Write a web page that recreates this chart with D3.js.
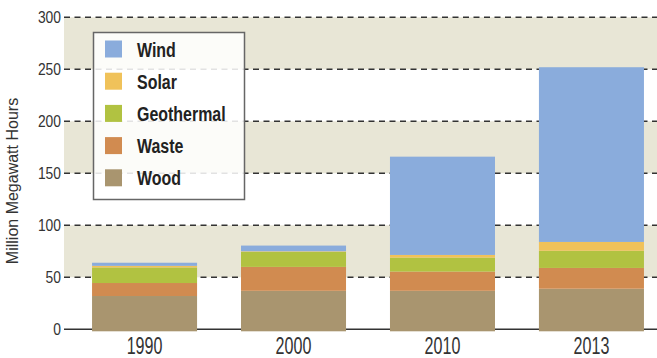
<!DOCTYPE html>
<html>
<head>
<meta charset="utf-8">
<script src="https://cdn.jsdelivr.net/npm/d3@7"></script>
<style>
  body { margin: 0; background: #fff; }
  text { font-family: "Liberation Sans", Arial, sans-serif; }
</style>
</head>
<body>
<div id="chart"></div>
<script>
width = 657;
height = 358;

// data (million MWh)
years = ["1990", "2000", "2010", "2013"];
sources = ["Wood", "Waste", "Geothermal", "Solar", "Wind"];
wood = [32, 37, 37, 39];
waste = [12.5, 23, 18.5, 20];
geothermal = [15, 14.5, 13.5, 16.5];
solar = [1.5, 0.5, 2.5, 8.5];
wind = [3, 5.5, 94.5, 168];
yTicks = [0, 50, 100, 150, 200, 250, 300];
bandRanges = [[50, 100], [150, 200], [250, 300]];

colors = {Wood: "#a9956f", Waste: "#d18b50", Geothermal: "#b1c241", Solar: "#f0c25a", Wind: "#8aacdc"};

var rows = years.map(function(y, i) {
    return {year: y, Wood: wood[i], Waste: waste[i], Geothermal: geothermal[i], Solar: solar[i], Wind: wind[i]};
});

var xScale = d3.scaleBand().domain(years).range([70, 666]).paddingInner(0.295).paddingOuter(0.148);
var yScale = d3.scaleLinear().domain([0, 300]).range([329.3, 17.3]);

var svg = d3.select("#chart").append("svg")
    .attr("width", width)
    .attr("height", height);

// shaded bands
svg.selectAll("rect.band")
    .data(bandRanges)
    .enter()
    .append("rect")
    .attr("class", "band")
    .attr("x", 64)
    .attr("width", width - 64)
    .attr("y", d => yScale(d[1]))
    .attr("height", d => yScale(d[0]) - yScale(d[1]))
    .attr("fill", "#e8e6d6");

// dashed gridlines
svg.selectAll("line.grid")
    .data(yTicks.filter(d => d > 0))
    .enter()
    .append("line")
    .attr("x1", 64)
    .attr("x2", width)
    .attr("y1", d => yScale(d))
    .attr("y2", d => yScale(d))
    .attr("stroke", "#333")
    .attr("stroke-width", 1.5)
    .attr("stroke-dasharray", "6,4.5");

svg.append("line")
    .attr("x1", 64).attr("x2", width)
    .attr("y1", yScale(0)).attr("y2", yScale(0))
    .attr("stroke", "#333")
    .attr("stroke-width", 1.5);

// stacked bars
var series = d3.stack().keys(sources)(rows);

svg.selectAll("g.layer")
    .data(series)
    .enter()
    .append("g")
    .attr("fill", d => colors[d.key])
    .selectAll("rect")
    .data(d => d)
    .enter()
    .append("rect")
    .attr("x", d => xScale(d.data.year))
    .attr("width", xScale.bandwidth())
    .attr("y", d => yScale(d[1]))
    .attr("height", d => yScale(d[0]) - yScale(d[1]) + (d[0] == 0 ? 2 : 0));

// y axis labels (condensed by scaling)
svg.selectAll("text.ytick")
    .data(yTicks)
    .enter()
    .append("text")
    .attr("transform", d => "translate(61," + yScale(d) + ") scale(0.84,1)")
    .attr("dy", "0.36em")
    .attr("text-anchor", "end")
    .attr("font-size", 16.5)
    .attr("fill", "#333")
    .text(d => d);

svg.append("text")
    .attr("transform", "translate(18,181) rotate(-90)")
    .attr("text-anchor", "middle")
    .attr("font-size", 16)
    .attr("fill", "#333")
    .text("Million Megawatt Hours");

// x axis labels
svg.selectAll("text.xtick")
    .data(years)
    .enter()
    .append("text")
    .attr("transform", d => "translate(" + (xScale(d) + xScale.bandwidth() / 2) + ",354) scale(0.7,1)")
    .attr("text-anchor", "middle")
    .attr("font-size", 23)
    .attr("fill", "#333")
    .text(d => d);

// legend
var legend = svg.append("g");
legend.append("rect")
    .attr("x", 93.5).attr("y", 32.5)
    .attr("width", 151).attr("height", 167)
    .attr("fill", "#fff")
    .attr("fill-opacity", 0.86)
    .attr("stroke", "#666")
    .attr("stroke-width", 1.5);

var legendOrder = sources.slice().reverse();
var items = legend.selectAll("g.item")
    .data(legendOrder)
    .enter()
    .append("g")
    .attr("transform", (d, i) => "translate(105," + (49 + i * 32.2) + ")");

items.append("rect")
    .attr("x", 0).attr("y", -8.5)
    .attr("width", 17).attr("height", 17)
    .attr("fill", d => colors[d]);

items.append("text")
    .attr("transform", "translate(32,0) scale(0.76,1)")
    .attr("dy", "0.36em")
    .attr("font-size", 21)
    .attr("font-weight", "bold")
    .attr("fill", "#222")
    .text(d => d);
</script>
</body>
</html>
